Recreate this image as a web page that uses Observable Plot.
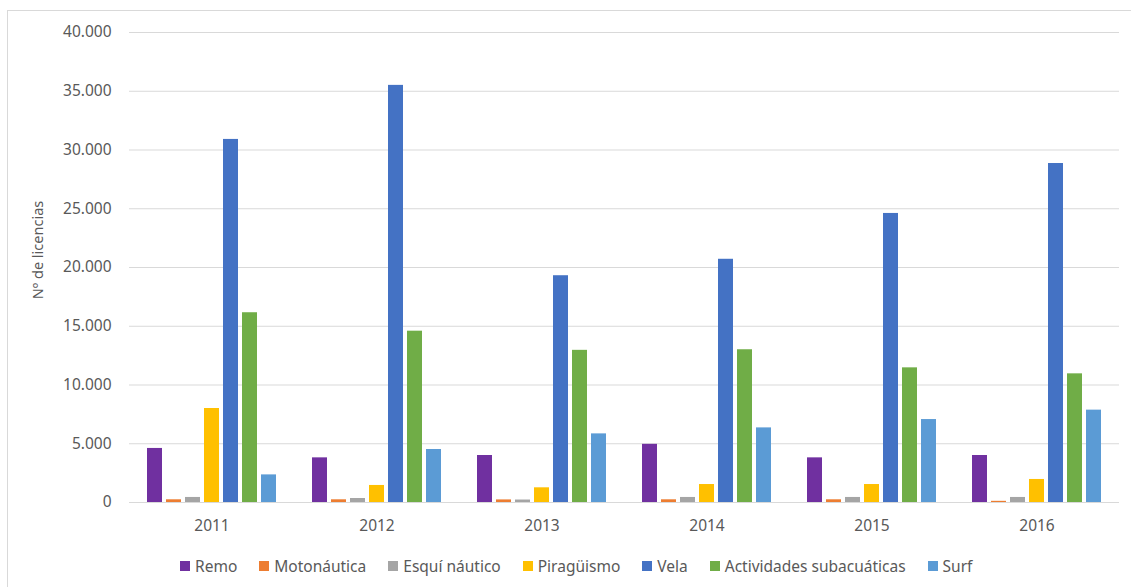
<!DOCTYPE html>
<html>
<head>
<meta charset="utf-8">
<script src="https://cdn.jsdelivr.net/npm/d3@7"></script>
<script src="https://cdn.jsdelivr.net/npm/@observablehq/plot@0.6"></script>
<style>
  html, body { margin: 0; padding: 0; background: #fff; width: 1131px; height: 587px; overflow: hidden; }
  body { position: relative; font-family: "Noto Sans", "Liberation Sans", sans-serif; color: #595959; }
  #frame { position: absolute; left: 7px; top: 10px; width: 1150px; height: 600px; border: 1px solid #d9d9d9; box-sizing: border-box; }
  #chart { position: absolute; left: 0; top: 0; }
  #ylabel { position: absolute; left: 37px; top: 250px; transform: translate(-50%, -50%) rotate(-90deg); white-space: nowrap; font-size: 14.5px; color: #595959; }
  #legend { position: absolute; left: 180px; top: 555px; display: flex; align-items: center; font-size: 15.5px; color: #595959; white-space: nowrap; }
  #legend .item { display: flex; align-items: center; margin-right: 22px; }
  #legend .sw { width: 10px; height: 10px; margin-right: 5px; }
</style>
</head>
<body>
<div id="frame"></div>
<div id="chart"></div>
<div id="ylabel">Nº de licencias</div>
<div id="legend"></div>
<script>
const years = ["2011", "2012", "2013", "2014", "2015", "2016"];
const series = ["Remo", "Motonáutica", "Esquí náutico", "Piragüismo", "Vela", "Actividades subacuáticas", "Surf"];
const colors = ["#7030A0", "#ED7D31", "#A5A5A5", "#FFC000", "#4472C4", "#70AD47", "#5B9BD5"];

const remo        = [4600, 3800, 4000, 4950, 3800, 4000];
const motonautica = [230, 230, 220, 230, 230, 100];
const esqui       = [430, 340, 210, 430, 430, 430];
const piraguismo  = [8000, 1450, 1250, 1530, 1530, 1960];
const vela        = [30900, 35500, 19300, 20700, 24600, 28850];
const subacuaticas= [16150, 14580, 12950, 13000, 11460, 10950];
const surf        = [2350, 4510, 5840, 6350, 7060, 7860];

const yTicks = [0, 5000, 10000, 15000, 20000, 25000, 30000, 35000, 40000];

const seriesValues = [remo, motonautica, esqui, piraguismo, vela, subacuaticas, surf];
const data = [];
series.forEach((s, i) => years.forEach((y, j) => data.push({year: y, serie: s, value: seriesValues[i][j]})));

const fmt = d => d3.format(",")(d).replace(/,/g, ".");

const chart = Plot.plot({
  width: 1131,
  height: 540,
  marginTop: 32,
  marginBottom: 38,
  marginLeft: 128,
  marginRight: 11,
  style: { fontFamily: "'Noto Sans', 'Liberation Sans', sans-serif", fontSize: "15.5px", color: "#595959", background: "transparent", overflow: "visible" },
  fx: { domain: years, padding: 0, label: null, axis: "bottom", tickSize: 0, tickPadding: 17 },
  x: { domain: series, paddingInner: 0.23, paddingOuter: 0.854, axis: null },
  y: { domain: [0, 40000], ticks: yTicks, tickFormat: fmt, tickSize: 0, tickPadding: 18, label: null },
  color: { domain: series, range: colors },
  marks: [
    Plot.ruleY(yTicks, { stroke: "#d9d9d9", strokeWidth: 1 }),
    Plot.barY(data, { fx: "year", x: "serie", y: "value", fill: "serie" })
  ]
});
document.getElementById("chart").appendChild(chart);

const legend = document.getElementById("legend");
series.forEach((s, i) => {
  const item = document.createElement("div");
  item.className = "item";
  const sw = document.createElement("span");
  sw.className = "sw";
  sw.style.background = colors[i];
  const t = document.createElement("span");
  t.textContent = s;
  item.appendChild(sw);
  item.appendChild(t);
  legend.appendChild(item);
});
</script>
</body>
</html>
